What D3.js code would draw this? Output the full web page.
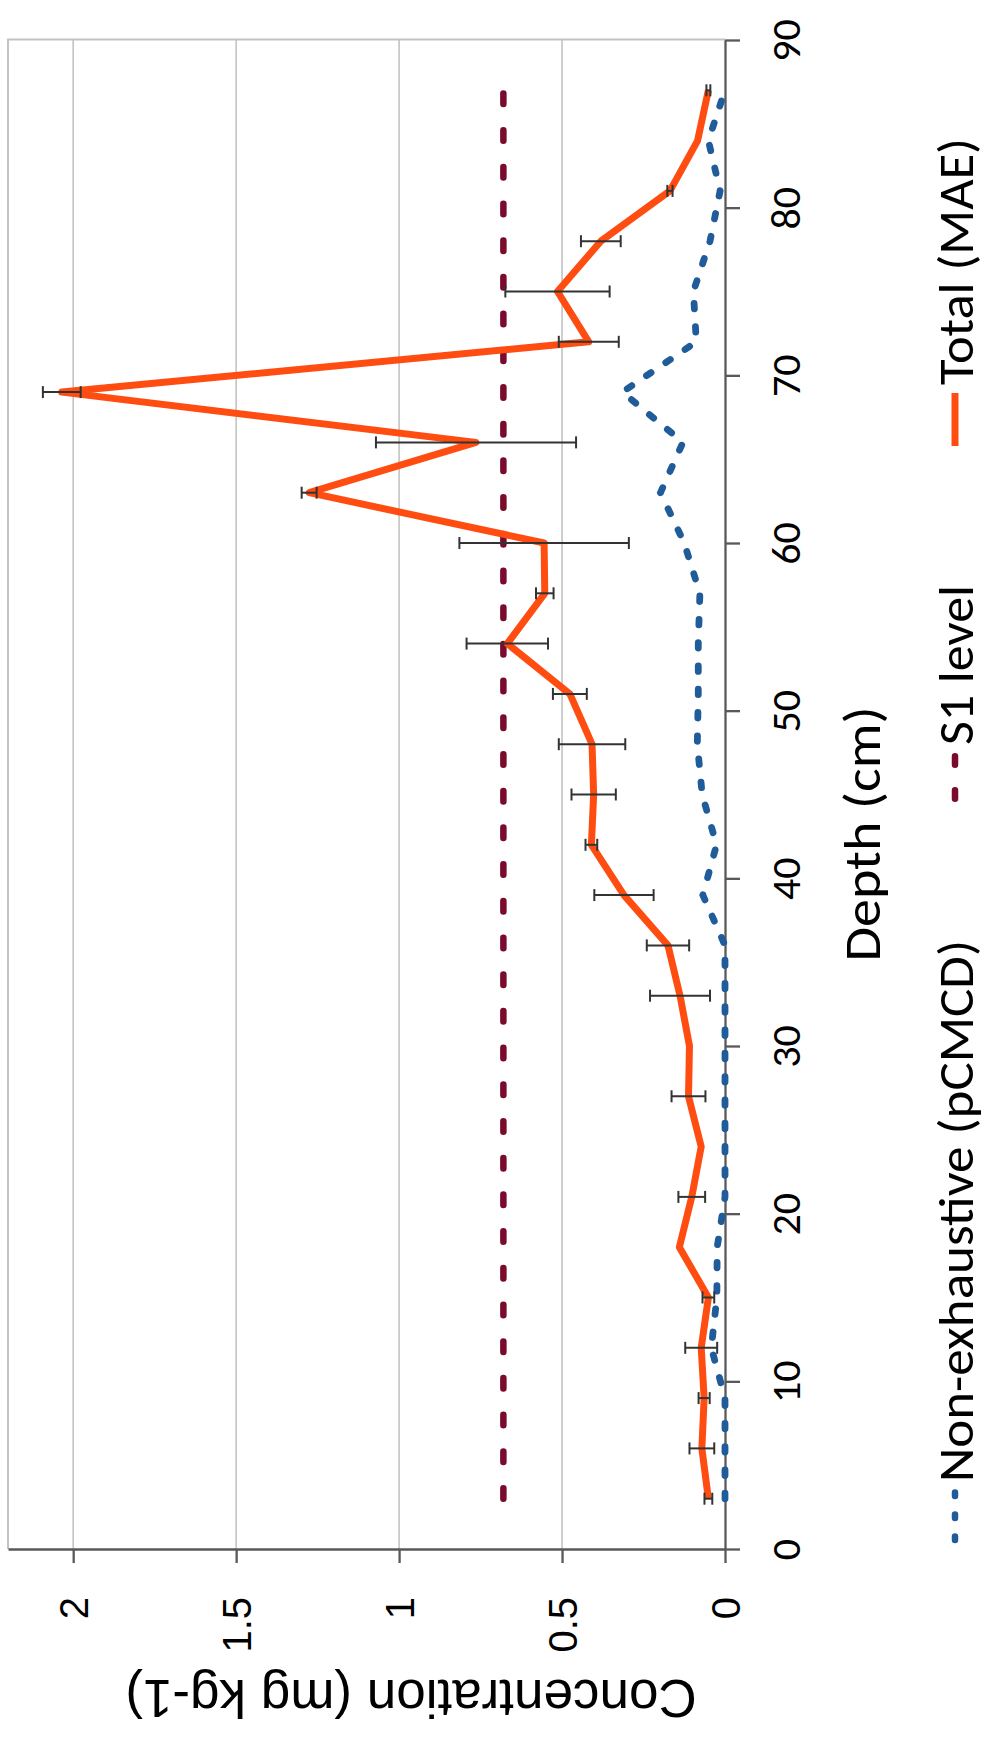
<!DOCTYPE html>
<html><head><meta charset="utf-8">
<script src="https://cdn.jsdelivr.net/npm/d3@7"></script>
<style>body{margin:0;background:#fff}</style>
</head><body><svg id="c" width="988" height="1738"></svg>
<script>
// ---- data ----
const depth    = [3,6,9,12,15,18,21,24,27,30,33,36,39,42,45,48,51,54,57,60,63,66,69,72,75,78,81,84,87];
const totalMAE = [0.051,0.071,0.064,0.073,0.051,0.140,0.102,0.073,0.112,0.109,0.138,0.175,0.310,0.410,0.403,0.408,0.476,0.668,0.553,0.555,1.276,0.764,2.035,0.418,0.514,0.381,0.169,0.084,0.051];
const totalErr = [0.012,0.038,0.017,0.049,0.018,0,0.041,0,0.052,0,0.092,0.065,0.091,0.018,0.068,0.102,0.052,0.125,0.027,0.260,0.023,0.307,0.058,0.092,0.160,0.061,0.008,0,0.006];
const nonExh   = [0,0,0,0.042,0.025,0.024,0,0,0,0,0,0,0.068,0.026,0.070,0.085,0.082,0.082,0.077,0.125,0.198,0.129,0.315,0.088,0.097,0.046,0.015,0.051,0];
const s1Depths = [3,87];
const s1Values = [0.68,0.68];
const concTicks  = [0,0.5,1,1.5,2];
const depthTicks = [0,10,20,30,40,50,60,70,80,90];
const gridTicks  = [0.5,1,1.5,2];
const legendLabels = ["Non-exhaustive (pCMCD)","S1 level","Total (MAE)"];
const concTitle = "Concentration (mg kg-1)";
const depthTitle = "Depth (cm)";

// ---- styles ----
const ORANGE = "#ff4d12", BLUE = "#1f5c99", MAROON = "#7a0b2c", AXIS = "#595959", GRID = "#c3c3c3";
const ARIAL = "'Liberation Sans', Arial, sans-serif";
const CAL = "Carlito, Calibri, Lato, 'Open Sans', sans-serif";

const svg = d3.select("#c");
svg.append("rect").attr("width",988).attr("height",1738).attr("fill","#fff");

// rotated chart: concentration runs leftwards, depth runs upwards
const xC = d3.scaleLinear().domain([0,2.2]).range([725,8]);
const yD = d3.scaleLinear().domain([0,90]).range([1549,40]);

// gridlines + plot border
svg.append("g").selectAll("line").data(gridTicks).join("line")
  .attr("x1",d=>xC(d)).attr("x2",d=>xC(d)).attr("y1",yD(90)).attr("y2",yD(0))
  .attr("stroke",GRID).attr("stroke-width",1.6);
svg.append("path")
  .attr("d",`M${xC(0)},${yD(90)-0.5}H${xC(2.2)}V${yD(0)}`)
  .attr("fill","none").attr("stroke",GRID).attr("stroke-width",2);

// axes
const gD = svg.append("g").attr("transform",`translate(${xC(0)},0)`)
  .call(d3.axisRight(yD).tickValues(depthTicks).tickSize(15).tickSizeOuter(0).tickFormat(d=>String(d)));
const gC = svg.append("g").attr("transform",`translate(0,${yD(0)})`)
  .call(d3.axisBottom(xC).tickValues(concTicks).tickSize(14).tickSizeOuter(0).tickFormat(d=>String(d)));
[gD,gC].forEach(g=>{
  g.select(".domain").attr("stroke",AXIS).attr("stroke-width",2.3);
  g.selectAll(".tick line").attr("stroke",AXIS).attr("stroke-width",2.3);
});
gD.selectAll(".tick text")
  .attr("x",null).attr("y",null).attr("dy",null)
  .attr("transform","translate(60,0) rotate(-90)")
  .attr("text-anchor","middle").attr("dominant-baseline","central")
  .attr("font-family",CAL).attr("font-size",42).attr("fill","#000");
gC.selectAll(".tick text")
  .attr("x",null).attr("y",null).attr("dy",null)
  .attr("transform","translate(0,48) rotate(-90)")
  .attr("text-anchor","end").attr("dominant-baseline","central")
  .attr("font-family",ARIAL).attr("font-size",40).attr("fill","#000");

// titles
svg.append("text").text(concTitle)
  .attr("transform","translate(411,1698) rotate(180)")
  .attr("text-anchor","middle").attr("dominant-baseline","central")
  .attr("font-family",ARIAL).attr("font-size",53).attr("fill","#000");
svg.append("text").text(depthTitle)
  .attr("transform","translate(862,834) rotate(-90)")
  .attr("text-anchor","middle").attr("dominant-baseline","central")
  .attr("textLength",255).attr("lengthAdjust","spacingAndGlyphs")
  .attr("font-family",CAL).attr("font-size",52).attr("fill","#000");

// series
const line = d3.line().x(d=>xC(d[1])).y(d=>yD(d[0]));
svg.append("path").datum(depth.map((d,i)=>[d,nonExh[i]])).attr("d",line)
  .attr("fill","none").attr("stroke",BLUE).attr("stroke-width",6.8)
  .attr("stroke-linecap","round").attr("stroke-dasharray","5.5 17.8");
svg.append("path").datum(s1Depths.map((d,i)=>[d,s1Values[i]])).attr("d",line)
  .attr("fill","none").attr("stroke",MAROON).attr("stroke-width",6.5)
  .attr("stroke-linecap","round").attr("stroke-dasharray","10.5 26.2");
svg.append("path").datum(depth.map((d,i)=>[d,totalMAE[i]])).attr("d",line)
  .attr("fill","none").attr("stroke",ORANGE).attr("stroke-width",7)
  .attr("stroke-linejoin","round");

// error bars
const eb = svg.append("g").attr("stroke","#333").attr("stroke-width",2);
depth.forEach((d,i)=>{
  const e = totalErr[i]; if(!e) return;
  const y = yD(d), xl = xC(totalMAE[i]+e), xr = xC(totalMAE[i]-e);
  eb.append("line").attr("x1",xl).attr("x2",xr).attr("y1",y).attr("y2",y);
  eb.append("line").attr("x1",xl).attr("x2",xl).attr("y1",y-6).attr("y2",y+6);
  eb.append("line").attr("x1",xr).attr("x2",xr).attr("y1",y-6).attr("y2",y+6);
});

// legend
const LX = 955;
const leg = [
  {label:legendLabels[0], y0:1540, y1:1488, tx:1482, tl:542, stroke:BLUE, dash:"3.5 18.5", cap:"round"},
  {label:legendLabels[1], y0:798.75, y1:753, tx:745, tl:160, stroke:MAROON, dash:"8.5 25.5", cap:"round"},
  {label:legendLabels[2], y0:446, y1:393, tx:385, tl:247, stroke:ORANGE, dash:null, cap:"butt"}
];
leg.forEach(l=>{
  svg.append("line").attr("x1",LX).attr("x2",LX).attr("y1",l.y0).attr("y2",l.y1)
    .attr("stroke",l.stroke).attr("stroke-width",l.dash?6.5:7)
    .attr("stroke-linecap",l.cap).attr("stroke-dasharray",l.dash);
  svg.append("text").text(l.label)
    .attr("transform",`translate(${LX},${l.tx}) rotate(-90)`)
    .attr("text-anchor","start").attr("dominant-baseline","central")
    .attr("textLength",l.tl).attr("lengthAdjust","spacingAndGlyphs")
    .attr("font-family",CAL).attr("font-size",50).attr("fill","#000");
});
</script></body></html>
